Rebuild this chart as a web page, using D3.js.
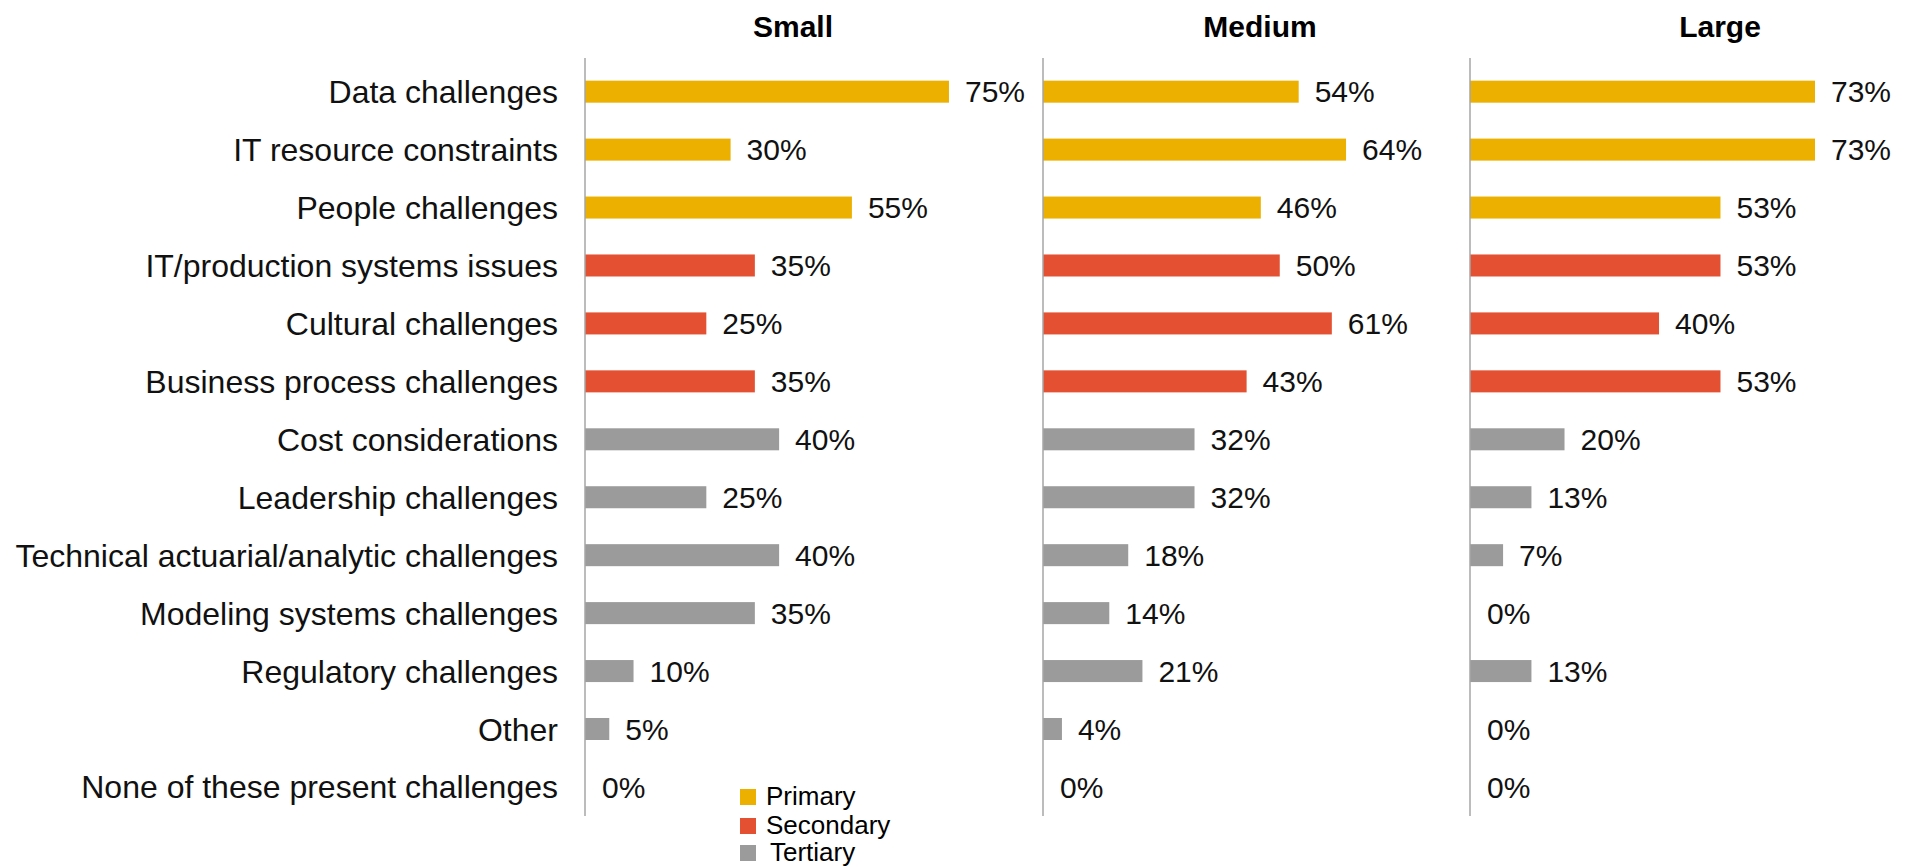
<!DOCTYPE html>
<html>
<head>
<meta charset="utf-8">
<script src="https://cdn.jsdelivr.net/npm/d3@7"></script>
<style>
  html, body { margin: 0; padding: 0; background: #ffffff; }
  svg { display: block; font-family: Arial, "Liberation Sans", sans-serif; }
</style>
</head>
<body>
<svg id="chart" width="1912" height="867"></svg>
<script>
// Challenges reported, by company size
const categories = [
  "Data challenges",
  "IT resource constraints",
  "People challenges",
  "IT/production systems issues",
  "Cultural challenges",
  "Business process challenges",
  "Cost considerations",
  "Leadership challenges",
  "Technical actuarial/analytic challenges",
  "Modeling systems challenges",
  "Regulatory challenges",
  "Other",
  "None of these present challenges"
];

// Tier of each challenge (drives bar colour)
const tiers = [
  "Primary", "Primary", "Primary",
  "Secondary", "Secondary", "Secondary",
  "Tertiary", "Tertiary", "Tertiary", "Tertiary", "Tertiary", "Tertiary", "Tertiary"
];

const groups = ["Small", "Medium", "Large"];

const smallValues  = [75, 30, 55, 35, 25, 35, 40, 25, 40, 35, 10, 5, 0];
const mediumValues = [54, 64, 46, 50, 61, 43, 32, 32, 18, 14, 21, 4, 0];
const largeValues  = [73, 73, 53, 53, 40, 53, 20, 13, 7, 0, 13, 0, 0];

const legendItems = ["Primary", "Secondary", "Tertiary"];

// ---- layout ----
const tierColor = d3.scaleOrdinal()
  .domain(legendItems)
  .range(["#ecb100", "#e45132", "#9b9b9b"]);

const panels = [
  { name: groups[0], values: smallValues,  x0: 585,  pxPerPct: 4.853, titleX: 793 },
  { name: groups[1], values: mediumValues, x0: 1043, pxPerPct: 4.735, titleX: 1260 },
  { name: groups[2], values: largeValues,  x0: 1470, pxPerPct: 4.726, titleX: 1720 }
];

const y = d3.scaleBand()
  .domain(categories)
  .range([62.7, 815.9])
  .paddingInner(0.62)
  .paddingOuter(0.31);

const svg = d3.select("#chart");

// category labels
svg.append("g")
  .selectAll("text")
  .data(categories)
  .join("text")
  .attr("x", 558)
  .attr("y", d => y(d) + y.bandwidth() / 2)
  .attr("dy", "0.36em")
  .attr("text-anchor", "end")
  .attr("font-size", 32)
  .attr("fill", "#111")
  .text(d => d);

panels.forEach(p => {
  const x = d3.scaleLinear()
    .domain([0, 100])
    .range([p.x0, p.x0 + 100 * p.pxPerPct]);

  const g = svg.append("g");

  // panel title
  g.append("text")
    .attr("x", p.titleX)
    .attr("y", 37)
    .attr("text-anchor", "middle")
    .attr("font-size", 30)
    .attr("font-weight", "bold")
    .attr("fill", "#000")
    .text(p.name);

  const rows = categories.map((c, i) => ({ cat: c, value: p.values[i], tier: tiers[i] }));

  // bars
  g.selectAll("rect")
    .data(rows)
    .join("rect")
    .attr("x", x(0))
    .attr("y", d => y(d.cat))
    .attr("width", d => x(d.value) - x(0))
    .attr("height", y.bandwidth())
    .attr("fill", d => tierColor(d.tier));

  // value labels
  g.selectAll("text.val")
    .data(rows)
    .join("text")
    .attr("class", "val")
    .attr("x", d => x(d.value) + (d.value === 0 ? 17 : 16))
    .attr("y", d => y(d.cat) + y.bandwidth() / 2)
    .attr("dy", "0.36em")
    .attr("font-size", 30)
    .attr("fill", "#111")
    .text(d => d.value + "%");

  // vertical axis line
  g.append("line")
    .attr("x1", x(0)).attr("x2", x(0))
    .attr("y1", 58).attr("y2", 816)
    .attr("stroke", "#a6a6a6")
    .attr("stroke-width", 1.5);
});

// legend
const legend = svg.append("g");
const legendY = [789, 818, 845];
legendItems.forEach((item, i) => {
  legend.append("rect")
    .attr("x", 740)
    .attr("y", legendY[i])
    .attr("width", 16)
    .attr("height", 16)
    .attr("fill", tierColor(item));
  legend.append("text")
    .attr("x", i === 2 ? 770 : 766)
    .attr("y", legendY[i] + 16)
    .attr("font-size", 26)
    .attr("fill", "#000")
    .text(item);
});
</script>
</body>
</html>
